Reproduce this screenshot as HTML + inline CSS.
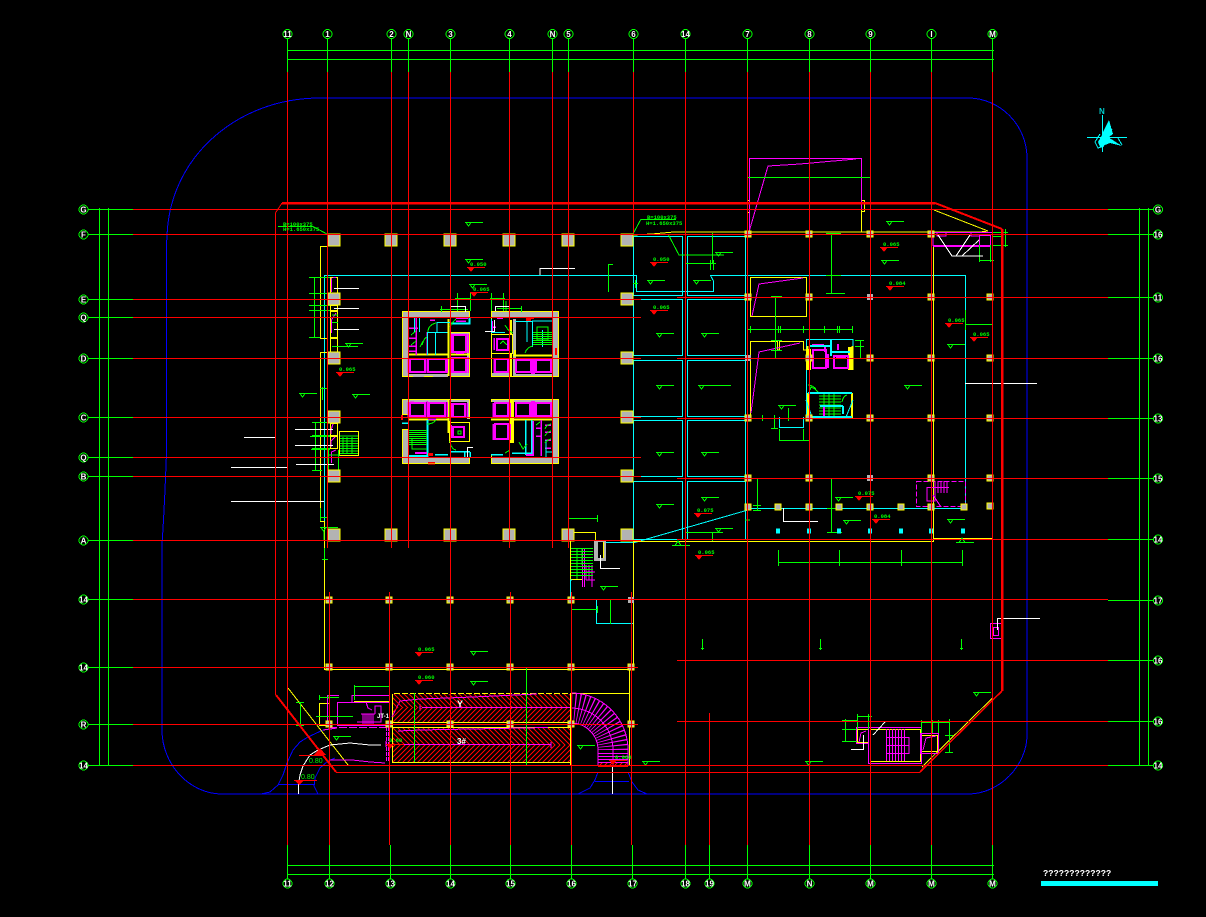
<!DOCTYPE html>
<html><head><meta charset="utf-8"><title>Floor plan</title>
<style>html,body{margin:0;padding:0;background:#000;overflow:hidden}svg{display:block}
text{font-family:"Liberation Sans",sans-serif}
.b{font:bold 8px "Liberation Sans",sans-serif;fill:#fff;text-anchor:middle}
.m{font:bold 5.5px "Liberation Mono",monospace;fill:#0f0}
</style></head><body>
<svg xmlns="http://www.w3.org/2000/svg" width="1206" height="917" viewBox="0 0 1206 917" shape-rendering="crispEdges" fill="none">
<defs>
<rect id="c" width="12" height="12" fill="#b3b3b3" stroke="#ff0" stroke-width="1"/>
<rect id="s" x="-3" y="-3" width="6" height="6" fill="#b3b3b3" stroke="#ff0" stroke-width="1"/>
<rect id="g" x="-3" y="-3" width="6" height="6" fill="#b3b3b3"/>
<rect id="k" x="-2" y="-2.500" width="4" height="5" fill="#0ff"/>
<g id="fl"><path d="M0 .5H18M1 .5L3.500 4L6 .5" stroke="#0f0"/></g>
<g id="flu"><path d="M0 .5H18M3 .5L6 -4L9 .5" stroke="#0f0"/></g>
<g id="rm"><path d="M0 .5H18" stroke="#f00"/><path d="M0 0H8L4 5Z" fill="#f00"/></g>
<pattern id="h1" patternUnits="userSpaceOnUse" width="5" height="5"><path d="M0 0L5 5M-1 4L1 6M4 -1L6 1" stroke="#f00" stroke-width="1.2"/></pattern>
<pattern id="h2" patternUnits="userSpaceOnUse" width="5" height="5"><path d="M0 5L5 0M-1 1L1 -1M4 6L6 4" stroke="#f00" stroke-width="1.2"/></pattern>
</defs>
<rect width="1206" height="917" fill="#000"/>

<!-- site outline -->
<g stroke="#00f" stroke-width="1">
<path d="M166.500 240V453L165 490L163.500 520L162 545V730C162 765 190 794 222 794H968C1000 794 1027 765 1027 735V158C1027 125 1000 98 968 98H320C235 98 167 160 167 240"/>
<path d="M261 794L270 792L278 785L283 775L287 763L293 750L300 742L308 737L323 730"/>
<path d="M278 784.500H315M318 794L314 786L315 778L320 768L328 761L335 758"/>
<path d="M578 794L590 788L595 780L598 772M628 772L632 782L638 790L647 794M595 781.500H629"/>
</g>

<!-- green dimension frames -->
<g stroke="#0f0" stroke-width="1">
<path d="M287.500 38V72M327.500 38V72M391.500 38V72M408.500 38V72M450.500 38V72M509.500 38V72M552.500 38V72M568.500 38V72M633.500 38V72M685.500 38V72M747.500 38V72M809.500 38V72M870.500 38V72M931.500 38V72M992.500 38V72"/>
<path d="M287 50.500H994M287 59.500H994"/>
<path d="M287.500 845V879M329.500 845V879M390.500 845V879M450.500 845V879M510.500 845V879M571.500 845V879M632.500 845V879M685.500 845V879M709.500 845V879M747.500 845V879M809.500 845V879M870.500 845V879M931.500 845V879M992.500 845V879"/>
<path d="M287 865.500H994M287 874.500H994"/>
<path d="M99.500 208V766M108.500 208V766"/>
<path d="M87 209.500H133M87 234.500H133M87 299.500H133M87 317.500H133M87 358.500H133M87 417.500H133M87 457.500H133M87 476.500H133M87 540.500H133M87 599.500H133M87 667.500H133M87 724.500H133M87 765.500H133"/>
<path d="M1139.500 208V766M1148.500 208V766"/>
<path d="M1108 209.500H1154M1108 234.500H1154M1108 297.500H1154M1108 358.500H1154M1108 418.500H1154M1108 478.500H1154M1108 539.500H1154M1108 600.500H1154M1108 660.500H1154M1108 721.500H1154M1108 765.500H1154"/>
</g>

<!-- cyan -->
<g stroke="#0ff" stroke-width="1">
<path d="M324.500 275.500H633M324.500 275V522"/>
<rect x="633.500" y="236.500" width="49" height="59"/><rect x="687.500" y="236.500" width="58" height="59"/>
<rect x="633.500" y="299.500" width="49" height="56"/><rect x="687.500" y="299.500" width="58" height="56"/>
<rect x="633.500" y="360.500" width="49" height="56"/><rect x="687.500" y="360.500" width="58" height="56"/>
<rect x="633.500" y="420.500" width="49" height="56"/><rect x="687.500" y="420.500" width="58" height="56"/>
<rect x="633.500" y="481.500" width="49" height="58"/><rect x="687.500" y="481.500" width="58" height="58"/>
<path d="M620 275.500H636.500V291.500H713.500V281L710.500 275.500H965.500V508.500H748M748 510L633 543M633 542.500H600"/>
<path d="M570.500 580V599.500H596.500V623.500H633M779.500 417V427.500H803.500V417M806 339.500H853V350M806.500 339V420M819 393.500H852M819 418.500H852"/>
</g>

<!-- yellow building lines -->
<g stroke="#ff0" stroke-width="1">
<path d="M327 234.500H633M327 246.500H320.500V338.500H327M327 352.500H320.500V521.500H325M324.500 521V669.500H629.500V765.500"/>
<path d="M633.500 541V669M633 541.500H933.500V247M933.500 538.500H992.500M992.500 234V698L922 767"/>
<path d="M633 235L652 234L674 232H980L988 231L934 210"/>
<path d="M392 693.500H570M392 722.500H570M392 762.500H570M570.500 693V765M570 693.500H630M392.500 693V762"/>
<path d="M288 688L348 765"/>
<rect x="330.500" y="277.500" width="7" height="16"/><rect x="330.500" y="305.500" width="7" height="5"/><rect x="330.500" y="311.500" width="7" height="26"/><rect x="330.500" y="338.500" width="7" height="14"/><rect x="330.500" y="423.500" width="7" height="12"/><rect x="330.500" y="436.500" width="7" height="12"/>
<rect x="339.500" y="431.500" width="19" height="24"/>
<rect x="747.500" y="200.500" width="2" height="12"/><rect x="861.500" y="200.500" width="3" height="11"/>
<path d="M861.500 212V232"/>
<rect x="750.500" y="277.500" width="56" height="39"/>
<path d="M750.500 418V341.500H777.500V350H779.500V341.500H803.500V350H806M750 418.500H806"/>
<rect x="319.500" y="703.500" width="10" height="22"/>
<path d="M354 701.500H390"/>
<path d="M570.500 532.500H595.500V540M570.500 532V580M570 579.500H582"/>
<rect x="870.500" y="729.500" width="50" height="32"/><rect x="857.500" y="729.500" width="11" height="13"/><rect x="921.500" y="735.500" width="16" height="16"/>
</g>

<!-- magenta misc -->
<g stroke="#f0f" stroke-width="1">
<path d="M749.500 232V158.500H861.500V210M749 232L768 166L800 164L856 159"/>
<path d="M752 316L759 284L803 278M751 413L759 352L800 343"/>
<path d="M333 277.500H336M331.500 278V292M331.500 323V320L336 313M331.500 333V323M333 424L331 430V434M331 447V441L335 437M331.500 463V452L336 450"/>
<path d="M933 233V246M934 232.500H992" /><path d="M933 246H990" stroke-width="2"/>
<path d="M979.500 245V235.500H990.500V245M937 233V236H946V233M971 233V236H979"/>
<path d="M352 695.500H390M352 695V702M337.500 702.500H390M337.500 702V725M327.500 695.500H339M327.500 695V725M337 725.500H390"/>
<path d="M329 727.500H386" stroke-dasharray="8 2"/>
<path d="M386.500 727V762M388.500 727V762" stroke-dasharray="4 1"/>
<path d="M361 714H375M361 725H375M363 714V725M365 714V725M367 714V725M369 714V725M371 714V725M373 714V725M375 714V706H381V722H357"/>
<path d="M366 702L368 708L372 710"/>
<path d="M323 730L337 728M330 760L352 760L370 762L385 763"/>
<path d="M392 717L400 701L420 699L473 697L537 694M422 707.500H570M392 744.500H551M398 731L420 730L548 727.500"/>
<path d="M551 742V748M420 704V711M386 741V747"/>
<path d="M582.500 549V587M584.500 549V587M586 565V580M589 565V580M592 565V587M586 580H595M586 572H595"/>
<path d="M597 542V558H603V542"/>
<path d="M916.500 481.500H965.500V506.500H916.500Z" stroke-dasharray="5 2"/>
<path d="M935 481V493M938 481V493M941 481V493M944 481V493M947 481V493M927 487.500H935V501H927ZM927 487V501M933 495L941 507M935 487.500H949"/>
<rect x="990.500" y="623.500" width="11" height="15"/><rect x="993.500" y="627.500" width="5" height="8"/>
<rect x="868.500" y="727.500" width="53" height="36"/><rect x="856.500" y="727.500" width="12" height="16"/><rect x="920.500" y="733.500" width="18" height="20"/>
<path d="M886.500 729V761M889.500 729V761M892.500 729V761M895.500 729V761M898.500 729V761M901.500 729V761M904.500 729V761M886 737.500H909V753.500H886M886 745.500H909"/>
<path d="M859 742L861 733L866 731M923 750L926 738L936 736"/>
</g>

<!-- spiral ramp -->
<g stroke="#f0f">
<path d="M571 693A57 57 0 0 1 628 750V766M571 723A27 27 0 0 1 598 750V766M571 708A42 42 0 0 1 613 750V766"/>
<path d="M571 708A42 42 0 0 1 613 750" stroke-width="30" stroke-dasharray="1 2.600" shape-rendering="auto"/>
<path d="M598 753.500H628M598 756.500H628M598 759.500H628M598 762.500H628"/>
</g>
<rect x="598" y="763" width="30" height="4" fill="url(#h2)"/>
<path d="M598 766.500H628" stroke="#f00"/>

<!-- ramp hatching -->
<rect x="393" y="694" width="177" height="14" fill="url(#h1)"/>
<rect x="393" y="708" width="177" height="14" fill="url(#h2)"/>
<rect x="393" y="728" width="177" height="17" fill="url(#h1)"/>
<rect x="393" y="745" width="177" height="17" fill="url(#h2)"/>
<path d="M392 693.500H570M392 722.500H570M392 727.500H570M392 762.500H570" stroke="#ff0"/>
<path d="M392 693.500H570" stroke="#000" stroke-dasharray="2 6"/>
<path d="M400 701L420 699L473 697L537 694M422 707.500H570M392 744.500H551M398 731L420 730L548 727.500" stroke="#f0f"/>
<path d="M414.500 693V762M526.500 667V765" stroke="#0f0"/>

<!-- core NW -->
<g>
<rect x="402" y="311" width="68" height="6" fill="#b3b3b3"/><rect x="402" y="311" width="6" height="66" fill="#b3b3b3"/>
<rect x="450" y="332" width="20" height="3" fill="#b3b3b3"/><rect x="467" y="332" width="3" height="45" fill="#b3b3b3"/><rect x="450" y="373" width="20" height="4" fill="#b3b3b3"/><rect x="408" y="374" width="40" height="3" fill="#b3b3b3"/>
<path d="M402.500 376.500V311.500H469.500V318M450 332.500H469.500V376.500H450M402 376.500H413M424 376.500H433" stroke="#ff0"/>
<path d="M408 354.500H448.500V319M448.500 354V376M450 354.500H469" stroke="#ff0" stroke-width="2"/>
<g stroke="#f0f" stroke-width="2"><rect x="410" y="359" width="15" height="13"/><rect x="428" y="359" width="18" height="13"/><rect x="453" y="335" width="13" height="17"/><rect x="453" y="358" width="13" height="14"/>
<path d="M408 358V373M427 358V373M447 358V373M451 334V353M468 334V353M451 357V373M468 357V373M456 353H464M416 318V355M409 328H418M409 338H417M409 346H417M409 351H417M430 320H435M456 318H468M456 321H466M427 332V355" stroke-width="1.500"/></g>
<g stroke="#0ff"><path d="M414.500 318V332M419.500 318V332M427.500 332V355M427 332.500H447.500M435.500 332V355M437 322.500H450M437 322V332"/><path d="M450 323.500H469.500V318" stroke-width="2"/></g>
<path d="M428 332Q428 325 436 323M422 345Q424 338 427 337M450 327Q452 322 456 319M411 335L416 331M411 345L416 341M420 347L423 341" stroke="#0f0"/>
</g>
<!-- core NE -->
<g>
<rect x="491" y="311" width="68" height="6" fill="#b3b3b3"/><rect x="552" y="311" width="7" height="66" fill="#b3b3b3"/><rect x="491" y="373" width="20" height="4" fill="#b3b3b3"/><rect x="513" y="374" width="39" height="3" fill="#b3b3b3"/>
<rect x="513" y="319" width="3" height="58" fill="#b3b3b3"/>
<path d="M491.500 376.500V311.500H558.500V376.500H491M491.500 334.500H512.500V353.500H491.500V334.500" stroke="#ff0"/>
<path d="M511 320V334M511 353V376M513 355.500H552M515 350V355" stroke="#ff0" stroke-width="2"/>
<g stroke="#f0f" stroke-width="2"><rect x="495" y="359" width="13" height="13"/><rect x="516" y="360" width="15" height="12"/><rect x="536" y="360" width="15" height="12"/><rect x="497" y="339" width="11" height="11"/>
<path d="M533 358V374" stroke-width="4"/><path d="M494 358V373M509 358V373M494 338V350M492 321V332M497 318H503M491 327H496" stroke-width="1.500"/></g>
<g stroke="#0ff"><path d="M491.500 319V332M491 332.500H505M515 321.500H532M532.500 321V347M542.500 330V347M527 321V342M532 321H552"/></g>
<g stroke="#0f0"><path d="M533 332.500H552M533 334.500H552M533 336.500H552M533 338.500H552M533 340.500H552M533 342.500H552M533 344.500H552M537 327H548V340H537Z"/><path d="M525 353Q527 347 533 346M505 325Q508 331 513 333M500 344L503 341L507 345"/></g>
<path d="M526 318H534M526 320H531" stroke="#f00" stroke-width="2"/>
<rect x="555" y="348" width="2" height="7" fill="#f00"/>
</g>
<!-- core SW -->
<g>
<rect x="402" y="399" width="6" height="15" fill="#b3b3b3"/><rect x="402" y="429" width="6" height="35" fill="#b3b3b3"/><rect x="402" y="457" width="68" height="7" fill="#b3b3b3"/><rect x="402" y="399" width="46" height="3" fill="#b3b3b3"/><rect x="450" y="399" width="20" height="3" fill="#b3b3b3"/><rect x="467" y="399" width="3" height="20" fill="#b3b3b3"/>
<path d="M402.500 399.500H469.500V419M402.500 399V414.500H408M402.500 429.500V463.500H469.500V457M402 429.500H408M450 422.500H469.500V441.500H450" stroke="#ff0"/>
<path d="M408 419.500H448.500M448.500 399V433M450 421V443" stroke="#ff0" stroke-width="2"/>
<g stroke="#f0f" stroke-width="2"><rect x="410" y="403" width="15" height="13"/><rect x="429" y="403" width="16" height="13"/><rect x="453" y="404" width="12" height="13"/><rect x="453" y="427" width="11" height="10"/>
<path d="M408 402V417M427 401V418M447 402V417M451 403V418M467 403V418M451 425V438M410 402H414M428 419H436" stroke-width="1.500"/></g>
<g stroke="#0ff"><path d="M427.500 420V457M427 456H408" stroke-width="2"/><path d="M435 454.500H448M450 451.500H470M464.500 452V457M470 452V457M408 423H402" stroke-width="1.500"/></g>
<g stroke="#0f0"><path d="M408 430.500H427M408 432.500H427M408 434.500H427M408 436.500H427M408 438.500H427M408 440.500H427M408 442.500H427M408 444.500H427M412 438V449H427"/><path d="M427 424Q433 424 436 420M450 441Q451 449 456 450M458 434H461V431H458Z"/></g>
<rect x="428" y="453" width="5" height="3" fill="#f00"/><path d="M428 462.500H435M428 464H435" stroke="#f00"/>
<path d="M402 415V420" stroke="#f00" stroke-width="2"/>
<path d="M415 453H427" stroke="#f0f" stroke-width="2"/>
</g>
<!-- core SE -->
<g>
<rect x="491" y="399" width="20" height="3" fill="#b3b3b3"/><rect x="491" y="457" width="68" height="7" fill="#b3b3b3"/><rect x="552" y="399" width="7" height="65" fill="#b3b3b3"/><rect x="513" y="399" width="40" height="3" fill="#b3b3b3"/>
<path d="M491.500 399.500H558.500V463.500H491.500V455M491.500 399V402" stroke="#ff0"/>
<path d="M511 399V443M513 399V443M513 419.500H552M491 419.500H510" stroke="#ff0" stroke-width="2"/>
<g stroke="#f0f" stroke-width="2"><rect x="495" y="403" width="13" height="13"/><rect x="495" y="424" width="13" height="15"/><rect x="516" y="403" width="14" height="13"/><rect x="536" y="403" width="15" height="13"/>
<path d="M533 401V418" stroke-width="4"/><path d="M493 403V417M493 424V440M510 403V417M510 424V440M541 420V456M533 421V456M541 428H536M541 436H536M551 425H545M551 432H545M551 440H545M551 448H545" stroke-width="1.500"/></g>
<g stroke="#0ff"><path d="M525.500 420V455M531.500 420V455M491 454.500H503M512 453H531" stroke-width="1.500"/><path d="M546 440V457M552 452H546"/></g>
<path d="M510 450L505 453M519 442L523 449L527 444M536 425L540 422M545 429Q546 425 551 424M545 436Q547 432 551 431M545 443Q547 440 551 439" stroke="#0f0"/>
<path d="M526 455H534" stroke="#f0f" stroke-width="2"/>
</g>

<!-- stairs etc -->
<g stroke="#0f0">
<path d="M340 436H358M340 438.500H358M340 441H358M340 443.500H358M340 446H358M340 448.500H358M340 451H358M340 453.500H358M343 437V453M347 437V453M352 437V453"/>
<path d="M571 548.500H593M571 551.500H593M571 554.500H593M571 557.500H593M571 560.500H593M571 563.500H593M571 566.500H593M571 569.500H593M571 572.500H593M571 575.500H593M577 548V579M582 548V565"/>
<path d="M819 396H841M819 399H841M819 402H841M819 405H841M819 408H841M819 411H841M819 414H841M824 393V418M829 393V418M834 393V418"/>
<path d="M810 390L811 387L815 389L819 393M847 395Q843 396 842 402M808 385Q812 385 816 389" />
</g>
<g stroke="#ff0" stroke-width="2"><path d="M807.500 346V370M852.500 346V370M808 393V418M852 393V418"/></g>
<rect x="806" y="349" width="5" height="21" fill="#ff0"/><rect x="848" y="347" width="5" height="23" fill="#ff0"/>
<g stroke="#f0f" stroke-width="2"><rect x="813" y="350" width="13" height="18"/><rect x="834" y="356" width="14" height="12"/><path d="M828 354V368M838 344V350M812 345H824M825 345V352M836 357H846M824 405V418"/></g>
<g stroke="#0ff" stroke-width="2"><path d="M810 346H832M831 340V356M832 352H850M808 393H852M820 406H843M843 406V414M810 417H852"/></g>
<path d="M806 400L812 417M853 400L846 417" stroke="#0ff"/>
<path d="M572 580H570" stroke="#0ff"/>
<rect x="594" y="540" width="12" height="21" fill="#b3b3b3"/><rect x="598" y="542" width="5" height="16" fill="#000"/><path d="M603.500 542V558" stroke="#ff0"/>

<!-- green dims -->
<g stroke="#0f0">
<path d="M314.500 277V337M309 277.500H330M309 293.500H330M309 305.500H330M309 310.500H330M309 337.500H320"/>
<path d="M315.500 422V470M312 422.500H330M312 435.500H330M312 448.500H330M312 470.500H322"/>
<path d="M310 436.500H330M311 449.500H330M328 455H340M338.500 450V470M328 470.500H338M328.500 450V470"/>
<path d="M322.500 387V400M320 388.500H327M320 517.500H328M320.500 508V521M327.500 508V521M324 531V540M322 559.500H328M324.500 548V560"/>
<path d="M457.500 293V311M470.500 293V311M455 298.500H471M441.500 306V312M440 309.500H468"/>
<path d="M491.500 293V311M503.500 293V311M490 298.500H505M497 308.500H521M521.500 306V312M506 301V311"/>
<path d="M332 315H338M332 322.500H338M332 346.500H358"/>
<path d="M568 518.500H597M568.500 515V540M597.500 515V522M568 541H574"/>
<path d="M571 609.500H597M571.500 606V613M597.500 606V613M610.500 599V624M610 599.500H620"/>
<path d="M608.500 264V292M608 264.500H613"/>
<path d="M831.500 233V293M826 233.500H841M826 275.500H841M826 293.500H845"/>
<path d="M712.500 233V263M685 263.500H716M710.500 260V270M713.500 260V270M668 234L679 255H724M633 283.500H638M635.500 280V288"/>
<path d="M775.500 296V358M771 296.500H782M771 340.500H782M771 350.500H782M771 358.500H782"/>
<path d="M748 329.500H853M750.500 326V333M778.500 326V333M780.500 326V333M803.500 326V333M809.500 326V333M824.500 326V333M837.500 326V333M839.500 326V333M852.500 326V333"/>
<path d="M860.500 340V358M855 340.500H864M855 346.500H864M855 358.500H864"/>
<path d="M965 324.500H993M965.500 310V330M992.500 310V330"/>
<path d="M979.500 245V262M990.500 245V262M979 260.500H994M1005.500 229V247M992 232.500H1008M992 245.500H1008M992 236.500H1003"/>
<path d="M747 177.500H871M747.500 174V180M870.500 174V180"/>
<path d="M750 418.500H767M762.500 415V421"/><path d="M788.500 408V421M774.500 415V428M771 428.500H778M778 405.500H796"/>
<path d="M779 440.500H809M779.500 429V441M803.500 429V441M809.500 435V441"/>
<path d="M757.500 478V510M753 478.500H761M753 505.500H761M753 510.500H761"/>
<path d="M831.500 478V532M827 478.500H841M827 508.500H841M827 532.500H842"/>
<path d="M747.500 510V522M745 520H750"/>
<path d="M685 532.500H723M712.500 532V541"/>
<path d="M778 562.500H963M778.500 550V566M809.500 550V566M839.500 550V566M870.500 550V566M901.500 550V566M931.500 550V566M962.500 550V566"/>
<path d="M702.500 639V650M701 648.500H704M820.500 639V650M819 648.500H822M961.500 639V650M960 648.500H963"/>
<path d="M857 716.500H872M857.500 714V729M868.500 714V729M845.500 719V741M842 720.500H857M842 729.500H856M842 741.500H857"/>
<path d="M921 722.500H950M921.500 720V733M932.500 720V733M938.500 720V733M949.500 719V753M945 735.500H953M945 752.500H953"/>
<path d="M354.500 685V700M354 686.500H390M389.500 685V720M300.500 702V725M296 702.500H304M296 725.500H304M316 716.500H353M319 697.500H339M319.500 695V700M329 695V699"/>
<path d="M278 226.500H313L327 234M641 219.500H676M641 219L633 234"/>
</g>

<!-- floor symbols -->
<g>
<use href="#fl" x="465" y="222"/><use href="#fl" x="465" y="259"/><use href="#fl" x="469" y="284"/><use href="#fl" x="345" y="343"/><use href="#fl" x="299" y="393"/><use href="#fl" x="352" y="394"/>
<use href="#fl" x="470" y="651"/><use href="#fl" x="470" y="681"/><use href="#fl" x="333" y="736"/><use href="#fl" x="577" y="745"/><use href="#fl" x="642" y="761"/><use href="#fl" x="600" y="586"/>
<use href="#fl" x="886" y="221"/><use href="#fl" x="715" y="252"/><use href="#fl" x="647" y="280"/><use href="#fl" x="693" y="280"/><use href="#fl" x="881" y="260"/>
<use href="#fl" x="656" y="333"/><use href="#fl" x="701" y="333"/><use href="#fl" x="656" y="385"/><use href="#fl" x="698" y="385"/><path d="M698 385.500H731" stroke="#0f0"/><use href="#fl" x="904" y="385"/><use href="#fl" x="947" y="344"/><use href="#fl" x="778" y="405"/>
<use href="#fl" x="656" y="452"/><use href="#fl" x="701" y="452"/><use href="#fl" x="701" y="497"/><use href="#fl" x="656" y="504"/><use href="#fl" x="835" y="497"/><use href="#fl" x="843" y="520"/><use href="#fl" x="947" y="519"/><use href="#fl" x="715" y="528"/>
<use href="#flu" x="672" y="545"/><use href="#flu" x="956" y="542"/><use href="#fl" x="805" y="761"/><use href="#fl" x="973" y="692"/><use href="#fl" x="320" y="527"/>
</g>

<!-- white leaders -->
<g stroke="#fff">
<path d="M334 288.500H359M334 308.500H359M334 329.500H359M295 429.500H333M295 445.500H333M296 464.500H334M244 437.500H276M231 467.500H288M231 501.500H324"/>
<path d="M540 275V268.500H575M965 383.500H1037M783.500 508V521.500H818M997.500 630V618.500H1040M851 749.500H863.500V735M873 735L885 722M600.500 555V568.500H620"/>
<path d="M938 235L952 256H983M956 256L970 235M962 256L979 240"/>
<path d="M451 306.500H465.500V312M495.500 311V306.500H509M485 331.500H494.500V320M467.500 457V447.500H473"/>
<path d="M298.500 794V784L300 775L303 766L310 755L318 750L330 745L350 743L370 745H381" />
<path d="M612.500 767V794"/>
</g>

<!-- columns -->
<use href="#c" x="328" y="234"/><use href="#c" x="385" y="234"/><use href="#c" x="444" y="234"/><use href="#c" x="503" y="234"/><use href="#c" x="562" y="234"/><use href="#c" x="621" y="234"/>
<use href="#c" x="328" y="293"/><use href="#c" x="621" y="293"/><use href="#c" x="328" y="352"/><use href="#c" x="621" y="352"/><use href="#c" x="328" y="411"/><use href="#c" x="621" y="411"/><use href="#c" x="328" y="470"/><use href="#c" x="621" y="470"/>
<use href="#c" x="328" y="529"/><use href="#c" x="385" y="529"/><use href="#c" x="444" y="529"/><use href="#c" x="503" y="529"/><use href="#c" x="562" y="529"/><use href="#c" x="621" y="529"/>
<use href="#s" x="329" y="600"/><use href="#s" x="389" y="600"/><use href="#s" x="450" y="600"/><use href="#s" x="510" y="600"/><use href="#s" x="571" y="600"/><use href="#g" x="631" y="600"/>
<use href="#s" x="329" y="667"/><use href="#s" x="389" y="667"/><use href="#s" x="450" y="667"/><use href="#s" x="510" y="667"/><use href="#s" x="571" y="667"/><use href="#s" x="631" y="667"/>
<use href="#s" x="329" y="724"/><use href="#s" x="389" y="724"/><use href="#s" x="450" y="724"/><use href="#s" x="510" y="724"/><use href="#s" x="571" y="724"/><use href="#s" x="631" y="724"/>
<use href="#s" x="748" y="234"/><use href="#s" x="809" y="234"/><use href="#s" x="870" y="234"/><use href="#s" x="931" y="234"/>
<use href="#s" x="748" y="297"/><use href="#s" x="809" y="297"/><use href="#g" x="870" y="297"/><use href="#s" x="931" y="297"/><use href="#s" x="990" y="297"/>
<use href="#g" x="748" y="358"/><use href="#s" x="809" y="358"/><use href="#s" x="870" y="358"/><use href="#s" x="931" y="358"/><use href="#s" x="990" y="358"/>
<use href="#s" x="748" y="418"/><use href="#s" x="809" y="418"/><use href="#s" x="870" y="418"/><use href="#s" x="931" y="418"/><use href="#s" x="990" y="418"/>
<use href="#s" x="748" y="478"/><use href="#s" x="809" y="478"/><use href="#g" x="870" y="478"/><use href="#s" x="931" y="478"/><use href="#s" x="990" y="478"/>
<use href="#s" x="748" y="507"/><use href="#s" x="778" y="507"/><use href="#s" x="809" y="507"/><use href="#s" x="839" y="507"/><use href="#s" x="870" y="507"/><use href="#s" x="901" y="507"/><use href="#s" x="931" y="507"/><use href="#s" x="964" y="507"/><use href="#s" x="990" y="506"/>
<use href="#k" x="778" y="531"/><use href="#k" x="809" y="531"/><use href="#k" x="839" y="531"/><use href="#k" x="870" y="531"/><use href="#k" x="901" y="531"/><use href="#k" x="931" y="531"/><use href="#k" x="963" y="531"/>

<!-- red grid -->
<g stroke="#f00" stroke-width="1">
<path d="M287.500 72V845M327.500 72V548M391.500 72V548M408.500 72V548M450.500 72V845M509.500 72V548M552.500 72V548M568.500 72V548M633.500 72V233M329.500 592V845M389.500 592V845M510.500 592V845M571.500 592V845M631.500 592V845M685.500 72V845M709.500 713V845M747.500 72V845M809.500 72V845M870.500 72V845M931.500 72V845M992.500 72V845"/>
<path d="M133 209.500H1108M133 234.500H1108M133 299.500H641M133 317.500H641M133 358.500H641M133 417.500H641M133 457.500H641M133 476.500H641M133 540.500H641M133 599.500H1108M133 667.500H638M133 724.500H638M133 765.500H1108M677 297.500H1108M677 358.500H1108M677 418.500H1108M677 478.500H1108M677 539.500H1108M677 660.500H1108M677 721.500H1108"/>
</g>
<g stroke="#f00">
<path d="M282 203H935" stroke-width="2.500"/>
<path d="M935 203L1002 229" stroke-width="2"/>
<path d="M1002 229V691" stroke-width="2.500"/>
<path d="M1002 691L920 772" stroke-width="1.500"/>
<path d="M920 772.500H336" stroke-width="1"/>
<path d="M336 772L276 695" stroke-width="2"/>
<path d="M275.500 695V213L282 203" stroke-width="1"/>
</g>

<!-- elevation marks -->
<g>
<use href="#rm" x="467" y="267"/><text class="m" x="470" y="266">0.050</text>
<use href="#rm" x="470" y="292"/><text class="m" x="473" y="291">0.065</text>
<use href="#rm" x="336" y="372"/><text class="m" x="339" y="371">0.065</text>
<use href="#rm" x="650" y="262"/><text class="m" x="653" y="261">0.050</text>
<use href="#rm" x="650" y="310"/><text class="m" x="653" y="309">0.065</text>
<use href="#rm" x="880" y="247"/><text class="m" x="883" y="246">0.065</text>
<use href="#rm" x="886" y="286"/><text class="m" x="889" y="285">0.084</text>
<use href="#rm" x="945" y="323"/><text class="m" x="948" y="322">0.065</text>
<use href="#rm" x="970" y="337"/><text class="m" x="973" y="336">0.065</text>
<use href="#rm" x="694" y="513"/><text class="m" x="697" y="512">0.075</text>
<use href="#rm" x="695" y="555"/><text class="m" x="698" y="554">0.065</text>
<use href="#rm" x="855" y="496"/><text class="m" x="858" y="495">0.075</text>
<use href="#rm" x="872" y="519"/><text class="m" x="874" y="518">0.084</text>
<use href="#rm" x="415" y="652"/><text class="m" x="418" y="651">0.065</text>
<use href="#rm" x="415" y="680"/><text class="m" x="418" y="679">0.060</text>
<use href="#rm" x="609" y="760"/><text class="m" x="615" y="759">0.060</text>
<use href="#rm" x="386" y="744"/><text class="m" x="389" y="742">0.60</text>
<path d="M294 780.500H317" stroke="#f00"/><path d="M294 780H304L299 785Z" fill="#f00"/>
<text x="301" y="779" font-size="7" fill="#0f0">0.80</text>
<path d="M299 755.500H323" stroke="#f00"/><path d="M314 755H326L320 748Z" fill="#f00"/>
<text x="309" y="763" font-size="7" fill="#0f0">0.80</text>
<text class="m" x="283" y="226" font-size="5">B=100x375</text>
<text class="m" x="283" y="231" font-size="5">H=1.650x375</text>
<text class="m" x="647" y="219" font-size="5">B=100x375</text>
<text class="m" x="646" y="225" font-size="5">H=1.650x375</text>
</g>

<text x="457" y="707" font-size="9" font-weight="bold" fill="#fff">Y</text>
<text x="457" y="744" font-size="8" font-weight="bold" fill="#fff">3#</text>
<text x="377" y="718" font-size="6" font-weight="bold" fill="#fff">JT-1</text>

<!-- bubbles -->
<g stroke="#0f0" fill="#000">
<circle cx="287.500" cy="34" r="4.500"/><circle cx="327.500" cy="34" r="4.500"/><circle cx="391.500" cy="34" r="4.500"/><circle cx="408.500" cy="34" r="4.500"/><circle cx="450.500" cy="34" r="4.500"/><circle cx="509.500" cy="34" r="4.500"/><circle cx="552.500" cy="34" r="4.500"/><circle cx="568.500" cy="34" r="4.500"/><circle cx="633.500" cy="34" r="4.500"/><circle cx="685.500" cy="34" r="4.500"/><circle cx="747.500" cy="34" r="4.500"/><circle cx="809.500" cy="34" r="4.500"/><circle cx="870.500" cy="34" r="4.500"/><circle cx="931.500" cy="34" r="4.500"/><circle cx="992.500" cy="34" r="4.500"/>
<circle cx="287.500" cy="883.500" r="4.500"/><circle cx="329.500" cy="883.500" r="4.500"/><circle cx="390.500" cy="883.500" r="4.500"/><circle cx="450.500" cy="883.500" r="4.500"/><circle cx="510.500" cy="883.500" r="4.500"/><circle cx="571.500" cy="883.500" r="4.500"/><circle cx="632.500" cy="883.500" r="4.500"/><circle cx="685.500" cy="883.500" r="4.500"/><circle cx="709.500" cy="883.500" r="4.500"/><circle cx="747.500" cy="883.500" r="4.500"/><circle cx="809.500" cy="883.500" r="4.500"/><circle cx="870.500" cy="883.500" r="4.500"/><circle cx="931.500" cy="883.500" r="4.500"/><circle cx="992.500" cy="883.500" r="4.500"/>
<circle cx="83.500" cy="209.500" r="4.500"/><circle cx="83.500" cy="234.500" r="4.500"/><circle cx="83.500" cy="299.500" r="4.500"/><circle cx="83.500" cy="317.500" r="4.500"/><circle cx="83.500" cy="358.500" r="4.500"/><circle cx="83.500" cy="417.500" r="4.500"/><circle cx="83.500" cy="457.500" r="4.500"/><circle cx="83.500" cy="476.500" r="4.500"/><circle cx="83.500" cy="540.500" r="4.500"/><circle cx="83.500" cy="599.500" r="4.500"/><circle cx="83.500" cy="667.500" r="4.500"/><circle cx="83.500" cy="724.500" r="4.500"/><circle cx="83.500" cy="765.500" r="4.500"/>
<circle cx="1158" cy="209.500" r="4.500"/><circle cx="1158" cy="234.500" r="4.500"/><circle cx="1158" cy="297.500" r="4.500"/><circle cx="1158" cy="358.500" r="4.500"/><circle cx="1158" cy="418.500" r="4.500"/><circle cx="1158" cy="478.500" r="4.500"/><circle cx="1158" cy="539.500" r="4.500"/><circle cx="1158" cy="600.500" r="4.500"/><circle cx="1158" cy="660.500" r="4.500"/><circle cx="1158" cy="721.500" r="4.500"/><circle cx="1158" cy="765.500" r="4.500"/>
</g>
<g class="b">
<text class="b" x="287.500" y="37">11</text><text class="b" x="327.500" y="37">1</text><text class="b" x="391.500" y="37">2</text><text class="b" x="408.500" y="37">N</text><text class="b" x="450.500" y="37">3</text><text class="b" x="509.500" y="37">4</text><text class="b" x="552.500" y="37">N</text><text class="b" x="568.500" y="37">5</text><text class="b" x="633.500" y="37">6</text><text class="b" x="685.500" y="37">14</text><text class="b" x="747.500" y="37">7</text><text class="b" x="809.500" y="37">8</text><text class="b" x="870.500" y="37">9</text><text class="b" x="931.500" y="37">I</text><text class="b" x="992.500" y="37">M</text>
<text class="b" x="287.500" y="886.500">11</text><text class="b" x="329.500" y="886.500">12</text><text class="b" x="390.500" y="886.500">13</text><text class="b" x="450.500" y="886.500">14</text><text class="b" x="510.500" y="886.500">15</text><text class="b" x="571.500" y="886.500">16</text><text class="b" x="632.500" y="886.500">17</text><text class="b" x="685.500" y="886.500">18</text><text class="b" x="709.500" y="886.500">19</text><text class="b" x="747.500" y="886.500">M</text><text class="b" x="809.500" y="886.500">N</text><text class="b" x="870.500" y="886.500">M</text><text class="b" x="931.500" y="886.500">M</text><text class="b" x="992.500" y="886.500">M</text>
<text class="b" x="83.500" y="212.500">G</text><text class="b" x="83.500" y="237.500">F</text><text class="b" x="83.500" y="302.500">E</text><text class="b" x="83.500" y="320.500">Q</text><text class="b" x="83.500" y="361.500">D</text><text class="b" x="83.500" y="420.500">C</text><text class="b" x="83.500" y="460.500">Q</text><text class="b" x="83.500" y="479.500">B</text><text class="b" x="83.500" y="543.500">A</text><text class="b" x="83.500" y="602.500">14</text><text class="b" x="83.500" y="670.500">14</text><text class="b" x="83.500" y="727.500">R</text><text class="b" x="83.500" y="768.500">14</text>
<text class="b" x="1158" y="212.500">G</text><text class="b" x="1158" y="237.500">16</text><text class="b" x="1158" y="300.500">11</text><text class="b" x="1158" y="361.500">16</text><text class="b" x="1158" y="421.500">13</text><text class="b" x="1158" y="481.500">15</text><text class="b" x="1158" y="542.500">14</text><text class="b" x="1158" y="603.500">17</text><text class="b" x="1158" y="663.500">16</text><text class="b" x="1158" y="724.500">16</text><text class="b" x="1158" y="768.500">14</text>
</g>

<!-- north arrow -->
<text x="1099" y="114" font-size="8" font-weight="bold" fill="#0cc">N</text>
<path d="M1102.500 115V152M1087 137.500H1127" stroke="#0ff"/>
<path d="M1109 120L1113 134L1105 140L1102 134ZM1098 142L1104 132L1108 137L1122 146L1110 143L1100 147Z" fill="#0ff"/>
<path d="M1100 134L1095 142L1098 148L1104 146M1118 138L1122 145M1106 136L1112 129" stroke="#0ff"/>

<!-- footer -->
<text x="1043" y="876" font-family="Liberation Mono" font-size="8.750" font-weight="bold" fill="#fff" style="font-family:'Liberation Mono',monospace">?????????????</text>
<rect x="1041" y="881" width="117" height="5" fill="#0ff"/>
</svg>
</body></html>
